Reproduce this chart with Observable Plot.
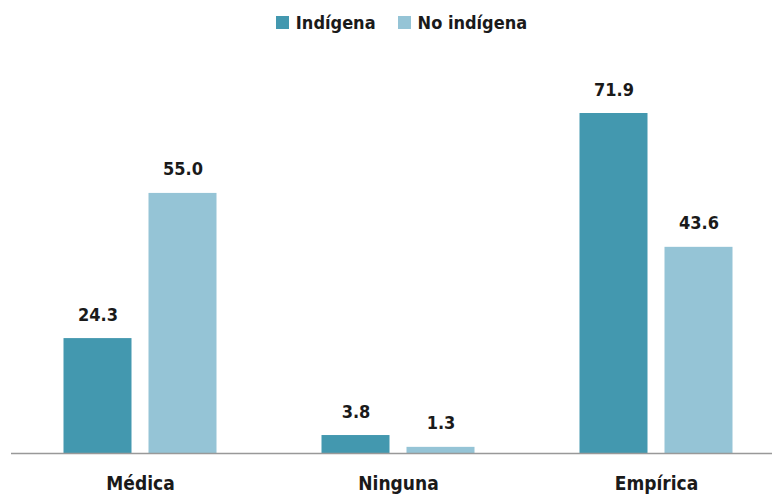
<!DOCTYPE html>
<html>
<head>
<meta charset="utf-8">
<script src="https://cdn.jsdelivr.net/npm/d3@7"></script>
<script src="https://cdn.jsdelivr.net/npm/@observablehq/plot@0.6"></script>
<style>
  html, body { margin: 0; padding: 0; background: #fff; }
  body { font-family: "Liberation Sans Narrow", "DejaVu Sans Condensed", "Roboto Condensed", sans-serif; font-stretch: condensed; color: #1a1a1a; }
  #legend { height: 44px; display: flex; align-items: center; justify-content: center; padding-left: 31px; box-sizing: border-box; }
  #legend > div { justify-content: center; min-height: 0 !important; margin: 0 !important; }
  .lg-swatch { margin-right: 22px !important; font-weight: bold; }
  .lg-swatch:last-child { margin-right: 0 !important; }
  .lg-swatch > svg { margin-right: 7px !important; }
</style>
</head>
<body>
<div id="legend"></div>
<div id="chart"></div>
<script>
const categories = ["Médica", "Ninguna", "Empírica"];
const series = ["Indígena", "No indígena"];
const indigena = [24.3, 3.8, 71.9];
const noIndigena = [55.0, 1.3, 43.6];
const colors = ["#4398af", "#95c4d6"];

const data = [];
categories.forEach((c, i) => {
  data.push({category: c, group: series[0], value: indigena[i]});
  data.push({category: c, group: series[1], value: noIndigena[i]});
});

const fontFamily = '"Liberation Sans Narrow", "DejaVu Sans Condensed", "Roboto Condensed", sans-serif';

const legend = Plot.legend({
  color: {domain: series, range: colors},
  swatchSize: 13,
  className: "lg",
  style: {fontSize: "18px", fontFamily, color: "#1a1a1a"}
});
document.getElementById("legend").appendChild(legend);

const chart = Plot.plot({
  width: 772,
  height: 450,
  marginTop: 30.7,
  marginBottom: 41,
  marginLeft: 10.5,
  marginRight: -12.5,
  style: {fontFamily, fontSize: "19px", fontWeight: "bold", color: "#1a1a1a", background: "#fff"},
  fx: {domain: categories, padding: 0, axis: "bottom", tickSize: 0, tickPadding: 23, label: null},
  x: {domain: series, paddingInner: 0.198, paddingOuter: 0.6, axis: null},
  y: {domain: [0, 80], axis: null},
  color: {domain: series, range: colors},
  marks: [
    Plot.barY(data, {fx: "category", x: "group", y: "value", fill: "group"}),
    Plot.ruleY([0], {stroke: "#999", strokeWidth: 1.5}),
    Plot.text(data, {
      fx: "category", x: "group", y: "value",
      text: d => d3.format(".1f")(d.value),
      dy: -18, lineAnchor: "bottom", fontSize: 18, fill: "#1a1a1a"
    })
  ]
});
document.getElementById("chart").appendChild(chart);
</script>
</body>
</html>
